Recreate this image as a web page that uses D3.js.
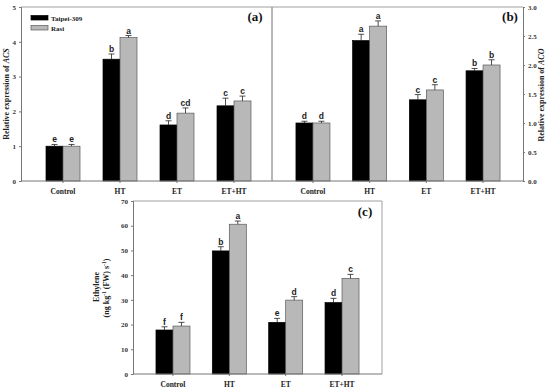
<!DOCTYPE html>
<html><head><meta charset="utf-8">
<script src="https://cdn.jsdelivr.net/npm/d3@7"></script>
<style>body{margin:0;background:#fff}svg{display:block}</style>
</head><body>
<svg id="c" width="550" height="392"></svg>
<script>
const categories = ["Control", "HT", "ET", "ET+HT"];
const seriesNames = ["Taipei-309", "Rasi"];
// (a) ACS
const acsTaipei = [1.0, 3.5, 1.61, 2.16];
const acsRasi = [1.0, 4.12, 1.95, 2.3];
const acsTaipeiErr = [0.05, 0.15, 0.12, 0.22];
const acsRasiErr = [0.05, 0.06, 0.15, 0.14];
const acsTaipeiLetters = ["e", "b", "d", "c"];
const acsRasiLetters = ["e", "a", "cd", "c"];
const acsTicks = [0, 1, 2, 3, 4, 5];
// (b) ACO
const acoTaipei = [1.0, 2.42, 1.4, 1.9];
const acoRasi = [1.0, 2.67, 1.57, 2.0];
const acoTaipeiErr = [0.03, 0.11, 0.09, 0.04];
const acoRasiErr = [0.03, 0.09, 0.09, 0.09];
const acoTaipeiLetters = ["d", "a", "c", "b"];
const acoRasiLetters = ["d", "a", "c", "b"];
const acoTicks = [0, 0.5, 1, 1.5, 2, 2.5, 3];
// (c) Ethylene
const ethTaipei = [17.8, 49.8, 20.9, 28.9];
const ethRasi = [19.4, 60.6, 29.9, 38.7];
const ethTaipeiErr = [1.3, 1.7, 1.6, 1.7];
const ethRasiErr = [1.5, 1.3, 1.4, 1.6];
const ethTaipeiLetters = ["f", "b", "e", "d"];
const ethRasiLetters = ["f", "a", "d", "c"];
const ethTicks = [0, 10, 20, 30, 40, 50, 60, 70];

const svg = d3.select("#c");
const SERIF = "'Liberation Serif','Times New Roman',serif";
const SANS = "'Liberation Sans',Arial,sans-serif";
const colors = ["#000000", "#b8b8b8"];
const strokes = ["#000000", "#5a5a5a"];

function panel(cfg) {
  const g = svg.append("g");
  const y = d3.scaleLinear().domain(cfg.ydomain).range([cfg.bottom, cfg.top]);
  const x = d3.scaleBand().domain(categories).range(cfg.xrange).padding(0);
  const xs = d3.scaleBand().domain(seriesNames).range([-17, 17]).padding(0);

  // frame
  g.append("line").attr("x1", cfg.fx0).attr("x2", cfg.fx1).attr("y1", cfg.top).attr("y2", cfg.top)
    .attr("stroke", "#a0a0a0").attr("stroke-width", 1);
  const fx = cfg.axisRight ? cfg.fx0 : cfg.fx1;
  g.append("line").attr("x1", fx).attr("x2", fx).attr("y1", cfg.top).attr("y2", cfg.bottom)
    .attr("stroke", "#a0a0a0").attr("stroke-width", 1);

  // bars
  const data = [];
  categories.forEach((c, i) => {
    cfg.series.forEach((s, k) => {
      data.push({cat: c, ser: seriesNames[k], v: s.v[i], e: s.e[i], l: s.l[i], k});
    });
  });
  const bx = d => x(d.cat) + x.bandwidth() / 2 + xs(d.ser);
  g.selectAll("rect.bar").data(data).join("rect").attr("class", "bar")
    .attr("x", bx).attr("width", xs.bandwidth())
    .attr("y", d => y(d.v)).attr("height", d => y(0) - y(d.v))
    .attr("fill", d => colors[d.k]).attr("stroke", d => strokes[d.k]).attr("stroke-width", 0.7);
  // error bars (upper)
  const cx = d => bx(d) + xs.bandwidth() / 2;
  g.selectAll("line.eb").data(data).join("line").attr("class", "eb")
    .attr("x1", cx).attr("x2", cx).attr("y1", d => y(d.v)).attr("y2", d => y(d.v + d.e))
    .attr("stroke", "#222").attr("stroke-width", 0.8);
  g.selectAll("line.cap").data(data).join("line").attr("class", "cap")
    .attr("x1", d => cx(d) - 3).attr("x2", d => cx(d) + 3).attr("y1", d => y(d.v + d.e)).attr("y2", d => y(d.v + d.e))
    .attr("stroke", "#222").attr("stroke-width", 0.8);
  g.selectAll("text.let").data(data).join("text").attr("class", "let")
    .attr("x", cx).attr("y", d => y(d.v + d.e) - 2)
    .attr("text-anchor", "middle").attr("font-family", SANS).attr("font-size", 8.5)
    .attr("font-weight", 600).attr("fill", "#222").text(d => d.l);

  // y axis
  const yAxis = (cfg.axisRight ? d3.axisRight(y) : d3.axisLeft(y))
    .tickValues(cfg.yticks).tickSize(2).tickPadding(3).tickFormat(cfg.fmt);
  const ya = g.append("g").attr("transform", `translate(${cfg.axisX},0)`).call(yAxis);
  ya.select(".domain").attr("stroke", "#777");
  ya.selectAll(".tick line").attr("stroke", "#777");
  ya.selectAll("text").attr("font-family", SERIF).attr("font-weight", "bold").attr("font-size", 7).attr("fill", "#333");

  // x axis
  const xAxis = d3.axisBottom(x).tickSize(2).tickPadding(6).tickSizeOuter(0);
  const xa = g.append("g").attr("transform", `translate(0,${cfg.bottom})`).call(xAxis);
  xa.select(".domain").remove();
  xa.selectAll("text").attr("font-family", SERIF).attr("font-weight", "bold").attr("font-size", 7.5).attr("fill", "#222");
  xa.selectAll(".tick line").attr("stroke", "#777");
  g.append("line").attr("x1", cfg.fx0).attr("x2", cfg.fx1).attr("y1", cfg.bottom).attr("y2", cfg.bottom)
    .attr("stroke", "#777").attr("stroke-width", 1);

  // panel label
  g.append("text").attr("x", cfg.labX).attr("y", cfg.labY).attr("text-anchor", "middle")
    .attr("font-family", SERIF).attr("font-weight", "bold").attr("font-size", 13).attr("fill", "#111")
    .text(cfg.label);
  return {g, x, y};
}

const fmtInt = d3.format("d");
const fmt1 = d3.format(".1f");

// Panel (a)
panel({
  ydomain: [0, 5], top: 7, bottom: 181, xrange: [34.5, 262.5], fx0: 21, fx1: 272, axisX: 21,
  axisRight: false, yticks: acsTicks, fmt: fmtInt, label: "(a)", labX: 255, labY: 21,
  series: [{v: acsTaipei, e: acsTaipeiErr, l: acsTaipeiLetters}, {v: acsRasi, e: acsRasiErr, l: acsRasiLetters}]
});
// Panel (b)
panel({
  ydomain: [0, 3], top: 7, bottom: 181, xrange: [284.6, 511.4], fx0: 272, fx1: 523, axisX: 523,
  axisRight: true, yticks: acoTicks, fmt: fmt1, label: "(b)", labX: 510, labY: 21,
  series: [{v: acoTaipei, e: acoTaipeiErr, l: acoTaipeiLetters}, {v: acoRasi, e: acoRasiErr, l: acoRasiLetters}]
});
// Panel (c)
panel({
  ydomain: [0, 70], top: 201, bottom: 374, xrange: [144.8, 370.2], fx0: 133, fx1: 382, axisX: 133,
  axisRight: false, yticks: ethTicks, fmt: fmtInt, label: "(c)", labX: 365, labY: 216,
  series: [{v: ethTaipei, e: ethTaipeiErr, l: ethTaipeiLetters}, {v: ethRasi, e: ethRasiErr, l: ethRasiLetters}]
});

// legend in (a)
const leg = svg.append("g");
seriesNames.forEach((s, i) => {
  leg.append("rect").attr("x", 31).attr("y", 15.5 + i * 10).attr("width", 17).attr("height", 4.5)
    .attr("fill", colors[i]).attr("stroke", strokes[i]).attr("stroke-width", 0.7);
  leg.append("text").attr("x", 51).attr("y", 20.5 + i * 10).attr("font-family", SERIF)
    .attr("font-weight", "bold").attr("font-size", 7).attr("fill", "#222").text(s);
});

// y axis titles
function ytitle(x, y, parts) {
  const t = svg.append("text").attr("transform", `translate(${x},${y}) rotate(-90)`)
    .attr("text-anchor", "middle").attr("font-family", SERIF).attr("font-weight", "bold")
    .attr("font-size", 8).attr("fill", "#222");
  parts.forEach(p => {
    const ts = t.append("tspan").text(p.t);
    if (p.i) ts.attr("font-style", "italic");
    if (p.sup) ts.attr("baseline-shift", "super").attr("font-size", 5.5);
  });
  return t;
}
ytitle(9, 94, [{t: "Relative expression of "}, {t: "ACS", i: true}]);
ytitle(544, 95, [{t: "Relative expression of "}, {t: "ACO", i: true}]);
ytitle(99, 287, [{t: "Ethylene"}]);
ytitle(109, 288, [{t: "(ng kg"}, {t: "-1", sup: true}, {t: " (FW) s"}, {t: "-1", sup: true}, {t: ")"}]);
</script>
</body></html>
